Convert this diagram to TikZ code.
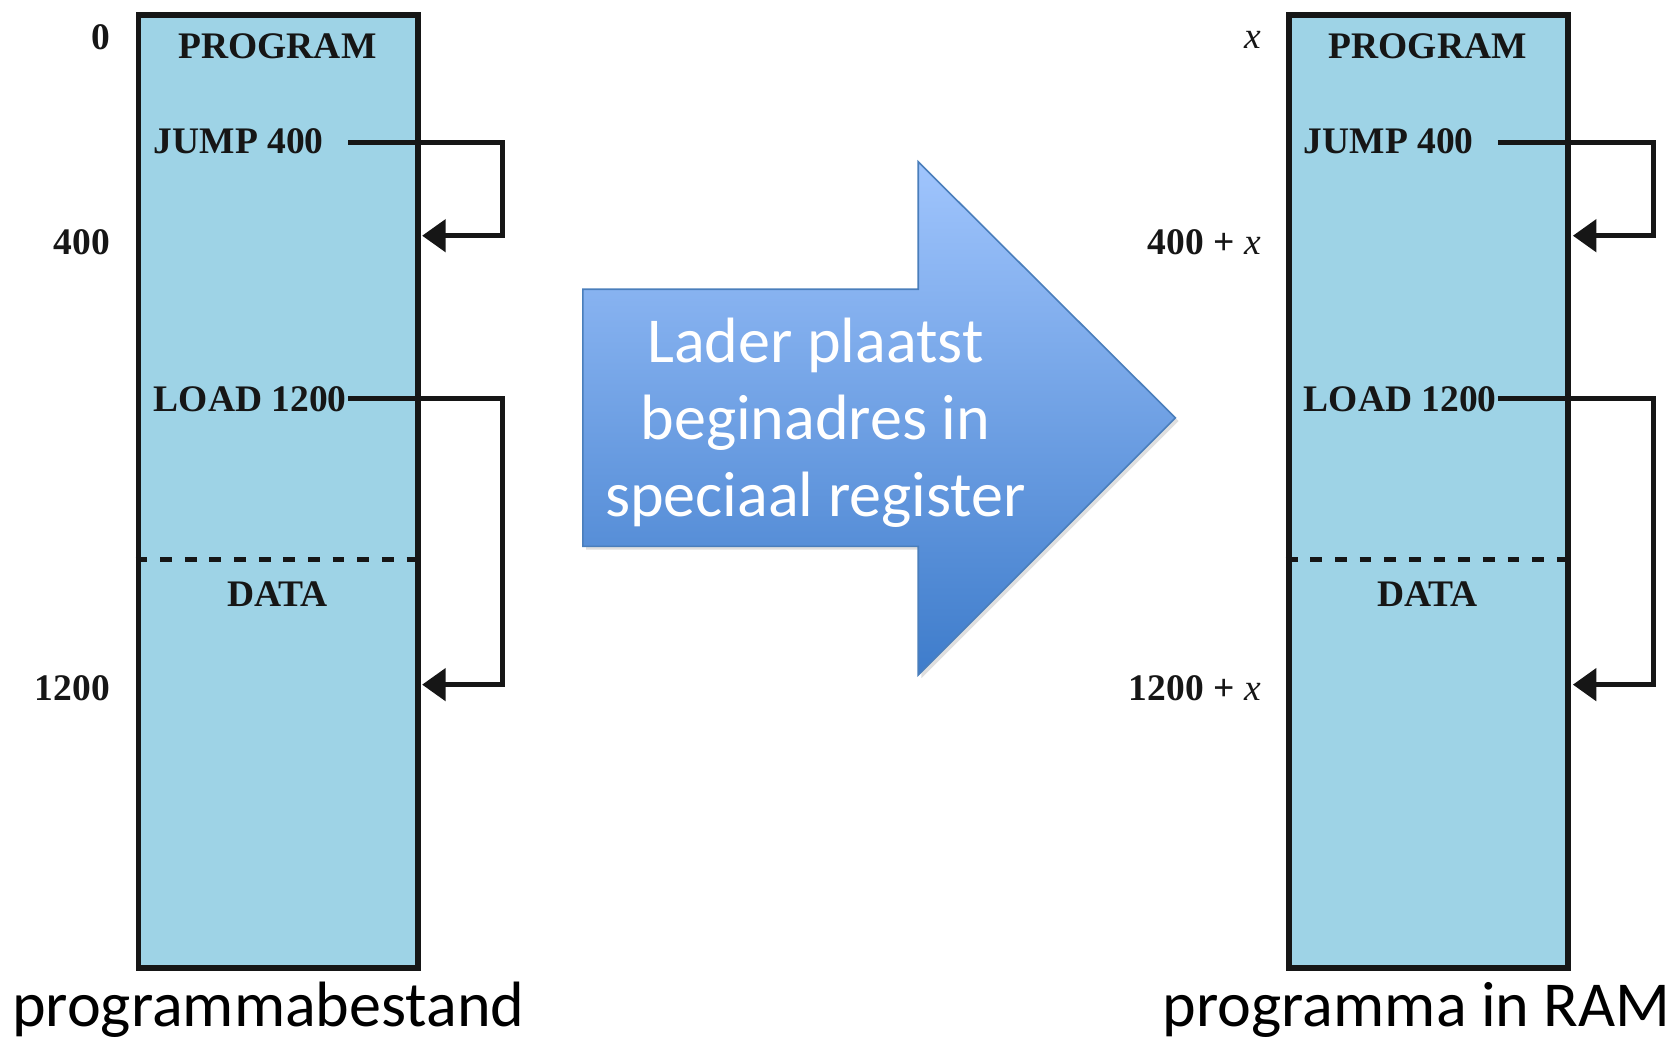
\documentclass[tikz,border=0pt]{standalone}
\usepackage{fontspec}
\setmainfont{Liberation Serif}
\newfontfamily\calibri{Carlito}
\usetikzlibrary{arrows.meta,shadows}
\definecolor{memfill}{RGB}{158,211,230}
\definecolor{edgeclr}{RGB}{22,22,22}
\definecolor{arrtop}{RGB}{160,197,253}
\definecolor{arrbot}{RGB}{62,124,203}
\definecolor{arrline}{RGB}{74,126,187}
\begin{document}
\begin{tikzpicture}[x=0.5pt,y=-0.5pt,
  membox/.style={draw=edgeclr, line width=2.75pt, fill=memfill, inner sep=0pt,
    minimum width=130.5pt, minimum height=444.75pt, anchor=north west},
  sep/.style={draw=edgeclr, line width=2.5pt, dash pattern=on 5.5pt off 6pt},
  lbl/.style={font=\fontsize{17.5}{20}\selectfont\bfseries, text=edgeclr, inner sep=0pt},
  addr/.style={lbl, anchor=base east},
  instr/.style={lbl, anchor=base west},
  title/.style={lbl, anchor=base},
  ref/.style={draw=edgeclr, line width=2.25pt, -{Triangle[length=11pt,width=15pt]}},
  caption/.style={font=\calibri\fontsize{29.9}{35}\selectfont, anchor=base west, inner sep=0pt, text=black},
  bigarrow/.style={draw=arrline, line width=0.75pt, top color=arrtop, bottom color=arrbot,
    drop shadow={opacity=0.25, shadow xshift=1.5pt, shadow yshift=-1.5pt}},
  arrtext/.style={font=\calibri\fontsize{29.9}{35.75}\selectfont, text=white, align=center, inner sep=0pt},
]
\useasboundingbox (0,0) rectangle (1568,972);

% ---------- left: programmabestand ----------
\node[membox] (file) at (126.5,11) {};
\draw[sep] (file.west |- 0,522) -- (file.east |- 0,522);
\node[addr] (a0) at (103,46.5) {0};
\node[addr] (a400) at (103,238) {400};
\node[addr] (a1200) at (103,654) {1200};
\node[title] (prog1) at (259,54.5) {PROGRAM};
\node[title] (data1) at (259,566) {DATA};
\node[instr] (jump1) at (143.3,143.7) {JUMP 400};
\node[instr] (load1) at (143.3,384) {LOAD 1200};
\coordinate (j1s) at (325,133);
\coordinate (j1c) at (469,133);
\coordinate (j1t) at (394,220);
\coordinate (l1s) at (325,372);
\coordinate (l1c) at (469,372);
\coordinate (l1t) at (394,639);
\draw[ref] (j1s) -- (j1c) |- (j1t);
\draw[ref] (l1s) -- (l1c) |- (l1t);
\node[caption] (cap1) at (11,958) {programmabestand};

% ---------- middle arrow ----------
\path[bigarrow] (544,270) -- (857,270) -- (857,151) -- (1097,390) -- (857,630) -- (857,510) -- (544,510) -- cycle;
\node[arrtext] (lader) at (761,394.5) {Lader plaatst\\beginadres in\\speciaal register};

% ---------- right: programma in RAM ----------
\node[membox] (ram) at (1200,11) {};
\draw[sep] (ram.west |- 0,522) -- (ram.east |- 0,522);
\node[addr] (b0) at (1177,45) {{\normalfont\itshape x}};
\node[addr] (b400) at (1177,238) {400 + {\normalfont\itshape x}};
\node[addr] (b1200) at (1177,654) {1200 + {\normalfont\itshape x}};
\node[title] (prog2) at (1332.5,54.5) {PROGRAM};
\node[title] (data2) at (1332.5,566) {DATA};
\node[instr] (jump2) at (1216.6,143.7) {JUMP 400};
\node[instr] (load2) at (1216.6,384) {LOAD 1200};
\coordinate (j2s) at (1398,133);
\coordinate (j2c) at (1543,133);
\coordinate (j2t) at (1468,220);
\coordinate (l2s) at (1398,372);
\coordinate (l2c) at (1543,372);
\coordinate (l2t) at (1468,639);
\draw[ref] (j2s) -- (j2c) |- (j2t);
\draw[ref] (l2s) -- (l2c) |- (l2t);
\node[caption] (cap2) at (1085,958) {programma in RAM};
\end{tikzpicture}
\end{document}
